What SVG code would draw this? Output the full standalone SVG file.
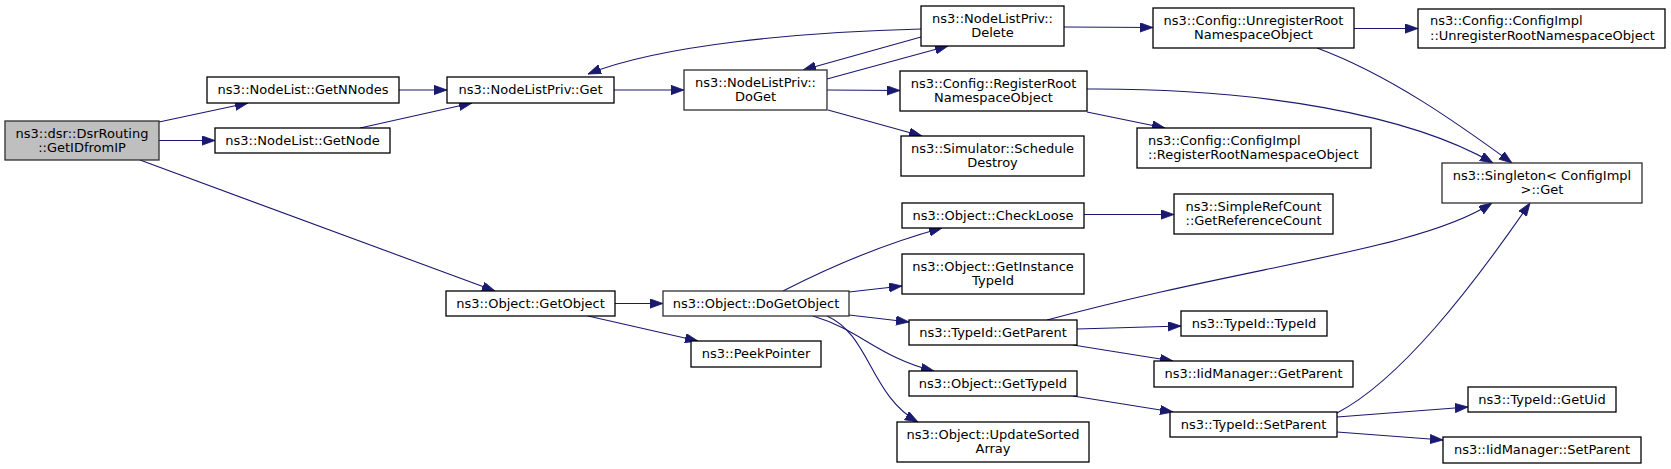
<svg xmlns="http://www.w3.org/2000/svg" width="1671" height="469" viewBox="0 0 1671 469">
<style>
.n rect{fill:#ffffff;stroke:#000000;stroke-width:1.3}
.n.g rect{stroke:#2e2e2e}
.n.root rect{fill:#bfbfbf;stroke:#2e2e2e}
.n text{font-family:"DejaVu Sans",sans-serif;font-size:13px;fill:#000000;text-anchor:middle}
.n text.l{text-anchor:start}
#edges path{fill:none;stroke:#191970;stroke-width:1.1;marker-end:url(#ah)}
</style>
<defs>
<marker id="ah" markerUnits="userSpaceOnUse" markerWidth="14" markerHeight="10" refX="13" refY="4.65" orient="auto">
<path d="M0,0 L13,4.65 L0,9.3 z" fill="#191970" stroke="#191970" stroke-width="0.8"/>
</marker>
</defs>
<rect width="1671" height="469" fill="#ffffff"/>
<g id="edges">
<path d="M159,122 L248,103"/>
<path d="M159,140.5 L215,140.5"/>
<path d="M140,160 L495,291"/>
<path d="M399,90 L447,90"/>
<path d="M360,128 L472,103"/>
<path d="M614,90 L684,90"/>
<path d="M827,79 L948,46"/>
<path d="M921,37 L803,70"/>
<path d="M921,29 C800,32 660,45 588,74"/>
<path d="M827,90 L900,90.5"/>
<path d="M828,110 L922,136"/>
<path d="M1064,27 L1153,27.5"/>
<path d="M1354,28.5 L1418,28.5"/>
<path d="M1317,48 C1390,75 1460,125 1512,163"/>
<path d="M1087,89 C1260,88 1410,115 1493,163"/>
<path d="M1087,112 L1165,128"/>
<path d="M615,303.5 L663,303.5"/>
<path d="M588,316 L698,341"/>
<path d="M783,291 C820,272 880,245 942,228"/>
<path d="M849,292 L902,286"/>
<path d="M849,315 L909,322"/>
<path d="M813,316 C860,330 880,358 934,371"/>
<path d="M827,316 C870,335 870,395 918,422"/>
<path d="M1084,214.5 L1174,214.5"/>
<path d="M1047,320 C1250,265 1420,250 1492,203"/>
<path d="M1077,329 L1181,326"/>
<path d="M1073,345 L1173,361"/>
<path d="M1073,396 L1173,412"/>
<path d="M1337,413 C1400,380 1470,290 1530,203"/>
<path d="M1337,417 L1468,407"/>
<path d="M1337,432 L1443,440"/>
</g>
<g id="n_dsr" class="n root"><rect x="5" y="121" width="154" height="39"/><text x="82" y="137.5">ns3::dsr::DsrRouting</text><text x="82" y="152">::GetIDfromIP</text></g>
<g id="n_getnnodes" class="n"><rect x="207" y="77" width="192" height="26"/><text x="303" y="94">ns3::NodeList::GetNNodes</text></g>
<g id="n_getnode" class="n"><rect x="215" y="128" width="175" height="25"/><text x="302.5" y="145">ns3::NodeList::GetNode</text></g>
<g id="n_nlpget" class="n"><rect x="447" y="77" width="167" height="26"/><text x="530.5" y="94">ns3::NodeListPriv::Get</text></g>
<g id="n_doget" class="n g"><rect x="684" y="70" width="143" height="40"/><text x="755.5" y="86.5">ns3::NodeListPriv::</text><text x="755.5" y="101">DoGet</text></g>
<g id="n_delete" class="n"><rect x="921" y="6" width="143" height="40"/><text x="992.5" y="22.5">ns3::NodeListPriv::</text><text x="992.5" y="37">Delete</text></g>
<g id="n_regroot" class="n"><rect x="900" y="71" width="187" height="40"/><text x="993.5" y="87.5">ns3::Config::RegisterRoot</text><text x="993.5" y="102">NamespaceObject</text></g>
<g id="n_sched" class="n"><rect x="901" y="136" width="183" height="40"/><text x="992.5" y="152.5">ns3::Simulator::Schedule</text><text x="992.5" y="167">Destroy</text></g>
<g id="n_unregroot" class="n"><rect x="1153" y="8" width="201" height="40"/><text x="1253.5" y="24.5">ns3::Config::UnregisterRoot</text><text x="1253.5" y="39">NamespaceObject</text></g>
<g id="n_implreg" class="n"><rect x="1137" y="128" width="234" height="40"/><text class="l" x="1148" y="144.5">ns3::Config::ConfigImpl</text><text class="l" x="1148" y="159">::RegisterRootNamespaceObject</text></g>
<g id="n_implunreg" class="n"><rect x="1418" y="9" width="247" height="39"/><text class="l" x="1430" y="25">ns3::Config::ConfigImpl</text><text class="l" x="1430" y="39.5">::UnregisterRootNamespaceObject</text></g>
<g id="n_singleton" class="n g"><rect x="1442" y="163" width="200" height="40"/><text x="1542" y="179.5">ns3::Singleton&lt; ConfigImpl</text><text x="1542" y="194">&gt;::Get</text></g>
<g id="n_getobject" class="n"><rect x="446" y="291" width="169" height="25"/><text x="530.5" y="308">ns3::Object::GetObject</text></g>
<g id="n_dogetobject" class="n g"><rect x="663" y="291" width="186" height="25"/><text x="756" y="308">ns3::Object::DoGetObject</text></g>
<g id="n_peek" class="n"><rect x="691" y="341" width="130" height="26"/><text x="756" y="358">ns3::PeekPointer</text></g>
<g id="n_checkloose" class="n"><rect x="902" y="203" width="182" height="25"/><text x="993" y="220">ns3::Object::CheckLoose</text></g>
<g id="n_simpleref" class="n"><rect x="1174" y="194" width="159" height="40"/><text x="1253.5" y="210.5">ns3::SimpleRefCount</text><text x="1253.5" y="225">::GetReferenceCount</text></g>
<g id="n_getinst" class="n"><rect x="902" y="254" width="182" height="40"/><text x="993" y="270.5">ns3::Object::GetInstance</text><text x="993" y="285">TypeId</text></g>
<g id="n_getparent" class="n"><rect x="909" y="320" width="168" height="25"/><text x="993" y="337">ns3::TypeId::GetParent</text></g>
<g id="n_typeid" class="n"><rect x="1181" y="311" width="146" height="25"/><text x="1254" y="328">ns3::TypeId::TypeId</text></g>
<g id="n_iidgetparent" class="n"><rect x="1154" y="361" width="199" height="26"/><text x="1253.5" y="378">ns3::IidManager::GetParent</text></g>
<g id="n_gettypeid" class="n"><rect x="909" y="371" width="168" height="25"/><text x="993" y="388">ns3::Object::GetTypeId</text></g>
<g id="n_update" class="n"><rect x="897" y="422" width="192" height="40"/><text x="993" y="438.5">ns3::Object::UpdateSorted</text><text x="993" y="453">Array</text></g>
<g id="n_setparent" class="n"><rect x="1170" y="412" width="167" height="25"/><text x="1253.5" y="429">ns3::TypeId::SetParent</text></g>
<g id="n_getuid" class="n"><rect x="1468" y="387" width="148" height="25"/><text x="1542" y="404">ns3::TypeId::GetUid</text></g>
<g id="n_iidsetparent" class="n"><rect x="1443" y="437" width="198" height="26"/><text x="1542" y="454">ns3::IidManager::SetParent</text></g>
</svg>
